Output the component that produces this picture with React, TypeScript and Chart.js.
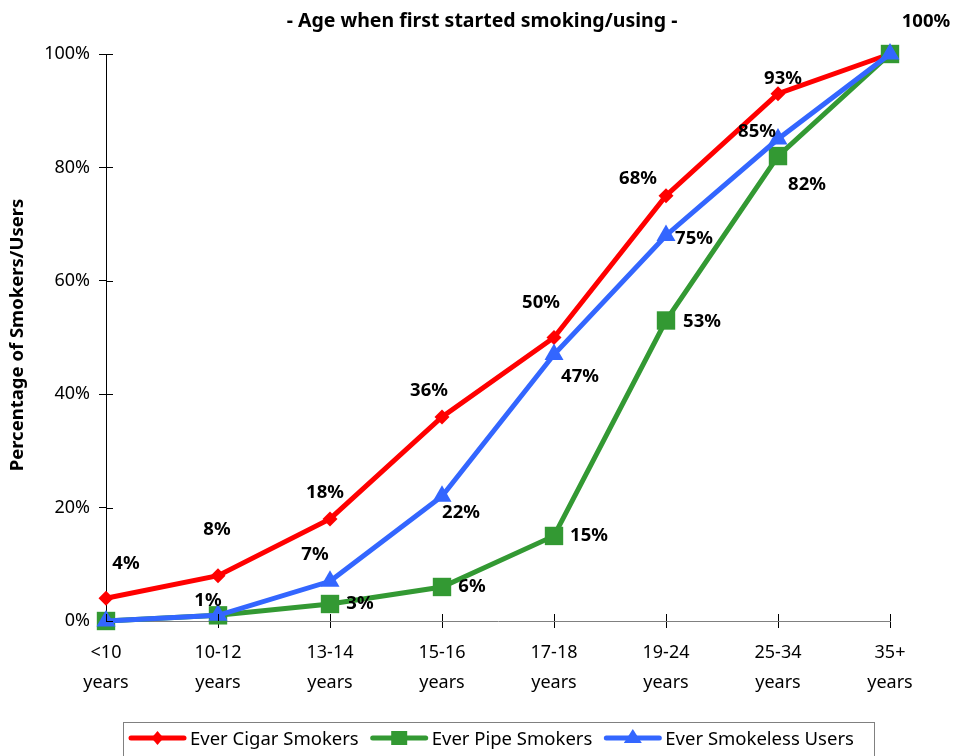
import { useEffect, useRef } from 'react';
import { Chart, registerables } from 'chart.js';

Chart.register(...registerables);

// ---- data ----
const categories: string[][] = [
  ['<10', 'years'],
  ['10-12', 'years'],
  ['13-14', 'years'],
  ['15-16', 'years'],
  ['17-18', 'years'],
  ['19-24', 'years'],
  ['25-34', 'years'],
  ['35+', 'years'],
];
const seriesNames = ['Ever Cigar Smokers', 'Ever Pipe Smokers', 'Ever Smokeless Users'];
const cigar = [4, 8, 18, 36, 50, 75, 93, 100];
const pipe = [0, 1, 3, 6, 15, 53, 82, 100];
const smokeless = [0, 1, 7, 22, 47, 68, 85, 100];
// data labels as printed in the original chart
const cigarLabels = ['4%', '8%', '18%', '36%', '50%', '68%', '93%', '100%'];
const pipeLabels = [null, null, '3%', '6%', '15%', '53%', '82%', null];
const smokelessLabels = [null, '1%', '7%', '22%', '47%', '75%', '85%', null];
const yTickValues = [0, 20, 40, 60, 80, 100];
const titleText = '- Age when first started smoking/using -';
const yTitleText = 'Percentage of Smokers/Users';

// ---- layout (label offsets relative to point, px) ----
const cigarOffsets = [[20, -35], [-1, -46], [-5, -26], [-13, -26], [-13, -35], [-28, -17], [5, -15], [36, -32]];
const pipeOffsets = [null, null, [30, 0], [30, 0], [35, 0], [36, 1], [29, 29], null];
const smokelessOffsets = [null, [-10, -15], [-15, -27], [19, 16], [26, 22], [28, 3], [-21, -7], null];

const FONT = "'Noto Sans', sans-serif";
const RED = '#FF0000';
const GREEN = '#339933';
const BLUE = '#3366FF';

export default function App() {
  const ref = useRef<HTMLCanvasElement>(null);

  useEffect(() => {
    if (!ref.current) return;
    const labelSets = [cigarLabels, pipeLabels, smokelessLabels];
    const offsetSets = [cigarOffsets, pipeOffsets, smokelessOffsets];

    const overlay = {
      id: 'overlay',
      afterDatasetsDraw(chart: any) {
        const ctx = chart.ctx;
        ctx.save();
        ctx.fillStyle = '#000';
        ctx.font = `bold 18.5px ${FONT}`;
        ctx.textAlign = 'center';
        ctx.textBaseline = 'middle';
        chart.data.datasets.forEach((_ds: any, di: number) => {
          const meta = chart.getDatasetMeta(di);
          meta.data.forEach((el: any, i: number) => {
            const txt = labelSets[di][i];
            const off = offsetSets[di][i];
            if (!txt || !off) return;
            ctx.fillText(txt, el.x + off[0], el.y + off[1]);
          });
        });
        ctx.restore();
      },
      afterDraw(chart: any) {
        const ctx = chart.ctx;
        const xs = chart.scales.x;
        const ys = chart.scales.y;
        const area = chart.chartArea;
        ctx.save();
        // inner halves of tick marks
        ctx.strokeStyle = '#000';
        ctx.lineWidth = 1;
        ctx.beginPath();
        xs.ticks.forEach((_t: any, i: number) => {
          const px = Math.round(xs.getPixelForTick(i)) + 0.5;
          ctx.moveTo(px, area.bottom - 7);
          ctx.lineTo(px, area.bottom);
        });
        ys.ticks.forEach((_t: any, i: number) => {
          const py = Math.round(ys.getPixelForTick(i)) + 0.5;
          ctx.moveTo(area.left, py);
          ctx.lineTo(area.left + 7, py);
        });
        ctx.stroke();

        // title
        ctx.fillStyle = '#000';
        ctx.font = `bold 19.5px ${FONT}`;
        ctx.textAlign = 'center';
        ctx.textBaseline = 'middle';
        ctx.fillText(titleText, 482, 21);

        // y title
        ctx.save();
        ctx.translate(18, 335);
        ctx.rotate(-Math.PI / 2);
        ctx.font = `bold 18.5px ${FONT}`;
        ctx.fillText(yTitleText, 0, 0);
        ctx.restore();

        // legend
        const colors = [RED, GREEN, BLUE];
        const styles = ['rectRot', 'rect', 'triangle'];
        ctx.strokeStyle = '#808080';
        ctx.lineWidth = 1;
        ctx.strokeRect(123.5, 722.5, 751, 50);
        ctx.font = `18.5px ${FONT}`;
        ctx.textAlign = 'left';
        let x = 129;
        const y = 738;
        seriesNames.forEach((name, i) => {
          ctx.strokeStyle = colors[i];
          ctx.fillStyle = colors[i];
          ctx.lineWidth = 5;
          ctx.lineCap = 'round';
          ctx.beginPath();
          ctx.moveTo(x + 2, y);
          ctx.lineTo(x + 55, y);
          ctx.stroke();
          const cx = x + 28.5;
          ctx.beginPath();
          if (styles[i] === 'rectRot') {
            ctx.moveTo(cx, y - 7);
            ctx.lineTo(cx + 6, y);
            ctx.lineTo(cx, y + 7);
            ctx.lineTo(cx - 6, y);
          } else if (styles[i] === 'rect') {
            ctx.rect(cx - 8, y - 7, 16, 14);
          } else {
            ctx.moveTo(cx, y - 9);
            ctx.lineTo(cx + 9, y + 5);
            ctx.lineTo(cx - 9, y + 5);
          }
          ctx.closePath();
          ctx.fill();
          ctx.fillStyle = '#000';
          ctx.textBaseline = 'middle';
          ctx.fillText(name, x + 61, y + 2);
          x = x + 61 + ctx.measureText(name).width + 12;
        });
        ctx.restore();
      },
    };

    const mk = (label: string, data: number[], color: string, pointStyle: string, radius: number, order: number) => ({
      label,
      data,
      borderColor: color,
      backgroundColor: color,
      borderWidth: 5,
      pointStyle,
      pointRadius: radius,
      pointHoverRadius: radius,
      pointBorderWidth: 0,
      pointBackgroundColor: color,
      tension: 0,
      order,
      clip: false as any,
    });

    const chart = new Chart(ref.current, {
      type: 'line',
      data: {
        labels: categories as any,
        datasets: [
          mk(seriesNames[0], cigar, RED, 'rectRot', 7.5, 3),
          mk(seriesNames[1], pipe, GREEN, 'rect', 13, 2),
          mk(seriesNames[2], smokeless, BLUE, 'triangle', 11, 1),
        ] as any,
      },
      options: {
        responsive: false,
        animation: false,
        layout: { padding: { left: 0, right: 64, top: 54, bottom: 0 } },
        plugins: {
          legend: { display: false },
          tooltip: { enabled: false },
          title: { display: false },
        },
        scales: {
          x: {
            type: 'category',
            offset: false,
            grid: { drawOnChartArea: false, tickLength: 7, color: '#000' },
            border: { display: true, color: '#808080', width: 1 },
            ticks: {
              color: '#000',
              font: { family: FONT, size: 18, lineHeight: '30px' as any },
              padding: 10,
              maxRotation: 0,
              autoSkip: false,
            },
            afterFit(scale: any) {
              scale.height = 135;
            },
          },
          y: {
            min: 0,
            max: 100,
            afterBuildTicks(scale: any) {
              scale.ticks = yTickValues.map((v) => ({ value: v }));
            },
            grid: { drawOnChartArea: false, tickLength: 7, color: '#000' },
            border: { display: true, color: '#000', width: 1 },
            ticks: {
              color: '#000',
              font: { family: FONT, size: 18 },
              padding: 9,
              callback: (v: any) => `${v}%`,
            },
            afterFit(scale: any) {
              scale.width = 106;
            },
          },
        },
      },
      plugins: [overlay],
    });
    return () => chart.destroy();
  }, []);

  return (
    <div style={{ position: 'absolute', left: 0, top: 0, width: 954, height: 756, background: '#fff' }}>
      <canvas ref={ref} width={954} height={756} />
    </div>
  );
}
